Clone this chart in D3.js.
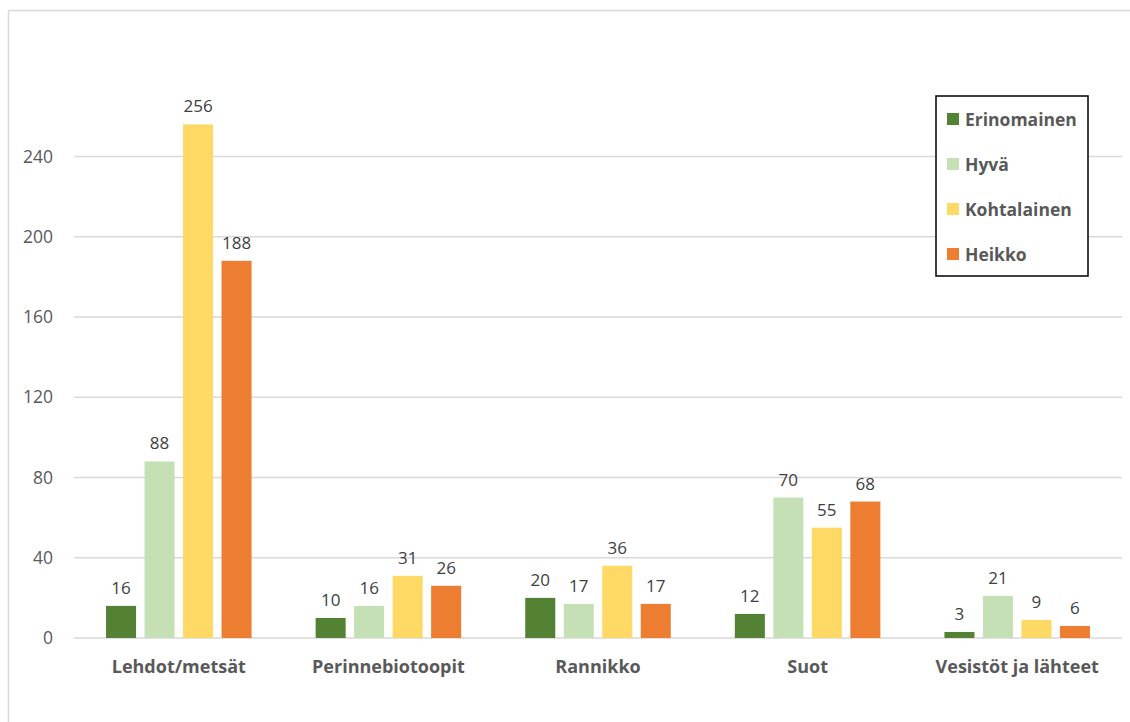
<!DOCTYPE html>
<html><head><meta charset="utf-8">
<script src="https://cdn.jsdelivr.net/npm/d3@7"></script>
<style>body{margin:0;background:#fff}svg{display:block}text{font-family:"Open Sans",sans-serif}</style>
</head><body><svg id="c" width="1130" height="722"></svg>
<script>
const categories = ["Lehdot/metsät","Perinnebiotoopit","Rannikko","Suot","Vesistöt ja lähteet"];
const seriesNames = ["Erinomainen","Hyvä","Kohtalainen","Heikko"];
const erinomainen = [16,10,20,12,3];
const hyva = [88,16,17,70,21];
const kohtalainen = [256,31,36,55,9];
const heikko = [188,26,17,68,6];
const yTicks = [0,40,80,120,160,200,240];
const colors = ["#548235","#C5E0B4","#FFD966","#ED7D31"];
const values = [erinomainen,hyva,kohtalainen,heikko];
const FONT = "'Open Sans',sans-serif";

const svg = d3.select("#c");
svg.append("rect").attr("x",8.5).attr("y",10.5).attr("width",1130).attr("height",720)
  .attr("fill","none").attr("stroke","#D9D9D9").attr("stroke-width",1.5);

const left=74, right=1122, y0=638, yTop=156.5;
const x0 = d3.scaleBand().domain(categories).range([left,right]);
const x1 = d3.scaleBand().domain(seriesNames).range([0,x0.bandwidth()]).paddingInner(0.22).paddingOuter(0.832);
const y = d3.scaleLinear().domain([0,240]).range([y0,yTop]);

const grid = svg.append("g");
grid.selectAll("line").data(yTicks).join("line")
  .attr("x1",left).attr("x2",right).attr("y1",d=>y(d)).attr("y2",d=>y(d))
  .attr("stroke","#D9D9D9").attr("stroke-width",1.3);
const yAxis = d3.axisLeft(y).tickValues(yTicks).tickSize(0).tickPadding(0);
const ya = svg.append("g").attr("transform","translate(53,0)").call(yAxis);
ya.select(".domain").remove();
ya.selectAll("text").attr("font-size",17.5).attr("fill","#595959").attr("font-family",FONT);

const groups = svg.append("g").selectAll("g").data(categories).join("g")
  .attr("transform",c=>`translate(${x0(c)},0)`);
groups.each(function(c,ci){
  const g = d3.select(this);
  seriesNames.forEach((s,si)=>{
    const v = values[si][ci];
    g.append("rect").attr("x",x1(s)).attr("width",x1.bandwidth())
      .attr("y",y(v)).attr("height",y0-y(v)).attr("fill",colors[si]);
    g.append("text").attr("x",x1(s)+x1.bandwidth()/2).attr("y",y(v)-12)
      .attr("text-anchor","middle").attr("font-size",17).attr("fill","#404040").text(v);
  });
});

const xAxis = d3.axisBottom(x0).tickSize(0).tickPadding(0);
const xa = svg.append("g").attr("transform",`translate(0,${y0+35})`).call(xAxis);
xa.select(".domain").remove();
xa.selectAll("text").attr("font-size",18).attr("font-weight","bold").attr("fill","#595959")
  .attr("font-family",FONT).attr("dy",0);

const lg = svg.append("g");
lg.append("rect").attr("x",936).attr("y",96).attr("width",152).attr("height",180)
  .attr("fill","#fff").attr("stroke","#000").attr("stroke-width",1.5);
seriesNames.forEach((s,i)=>{
  const cy = 119 + i*45;
  lg.append("rect").attr("x",947).attr("y",cy-6).attr("width",12).attr("height",12).attr("fill",colors[i]);
  lg.append("text").attr("x",965).attr("y",cy+6.5).attr("font-size",17.5).attr("font-weight","bold")
    .attr("fill","#595959").text(s);
});
</script></body></html>
